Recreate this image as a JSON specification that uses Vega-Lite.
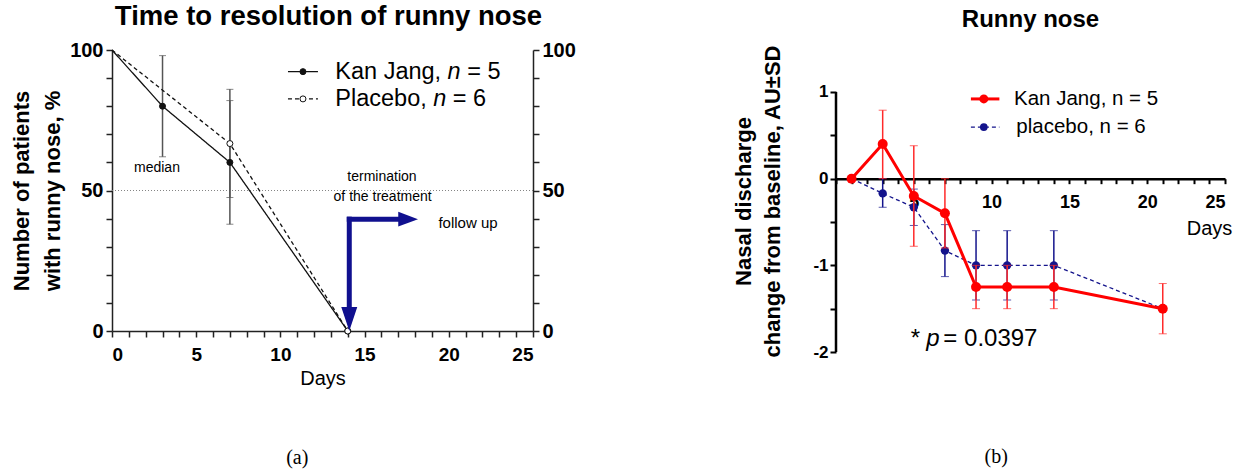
{
  "$schema": "https://vega.github.io/schema/vega-lite/v6.json",
  "background": "white",
  "padding": {"left": 10, "top": 2, "right": 5, "bottom": 5},
  "spacing": 156,
  "datasets": {
    "ref50": [{"v": 50}],
    "left_series": [
      {"g": "KJ", "day": 0, "v": 100},
      {"g": "KJ", "day": 3, "v": 80},
      {"g": "KJ", "day": 7, "v": 60},
      {"g": "KJ", "day": 14, "v": 0},
      {"g": "PL", "day": 0, "v": 100},
      {"g": "PL", "day": 7, "v": 66.7},
      {"g": "PL", "day": 14, "v": 0}
    ],
    "left_err": [
      {"g": "KJ", "day": 3, "lo": 62, "hi": 98},
      {"g": "KJ", "day": 7, "lo": 38, "hi": 82},
      {"g": "PL", "day": 7, "lo": 47.5, "hi": 86}
    ],
    "arrow_shafts": [
      {"x": 14.09, "x2": 14.09, "y": 39.8, "y2": 9},
      {"x": 14.09, "x2": 17.0, "y": 39.8, "y2": 39.8}
    ],
    "arrow_heads": [
      {"dir": "down", "x": 14.09, "y": 4.27},
      {"dir": "right", "x": 17.585, "y": 39.8}
    ],
    "ann_left": [
      {"x": 2.67, "y": 58.1, "t": "median"},
      {"x": 16.03, "y": 54.9, "t": "termination"},
      {"x": 16.07, "y": 47.7, "t": "of the treatment"}
    ],
    "ann_left2": [{"x": 21.14, "y": 38.6, "t": "follow up"}],
    "leg_left": [
      {"g": "KJ", "x1": 10.45, "x2": 12.23, "mx": 11.34, "y": 92.3, "a": "Kan Jang,", "ax": 13.26, "nx": 19.93, "b": "= 5", "bx": 21.1},
      {"g": "PL", "x1": 10.45, "x2": 12.23, "mx": 11.34, "y": 82.6, "a": "Placebo,", "ax": 13.26, "nx": 19.08, "b": "= 6", "bx": 20.24}
    ],
    "cap_a": [{"x": 11.0, "y": -45.3, "t": "(a)"}],
    "right_axis_line": [{"x": 0, "y": -2, "y2": 1}],
    "right_series": [
      {"g": "PL", "day": 1, "v": 0},
      {"g": "PL", "day": 3, "v": -0.17},
      {"g": "PL", "day": 5, "v": -0.33},
      {"g": "PL", "day": 7, "v": -0.83},
      {"g": "PL", "day": 9, "v": -1.0},
      {"g": "PL", "day": 11, "v": -1.0},
      {"g": "PL", "day": 14, "v": -1.0},
      {"g": "PL", "day": 21, "v": -1.5},
      {"g": "KJ", "day": 1, "v": 0},
      {"g": "KJ", "day": 3, "v": 0.4},
      {"g": "KJ", "day": 5, "v": -0.2},
      {"g": "KJ", "day": 7, "v": -0.4},
      {"g": "KJ", "day": 9, "v": -1.25},
      {"g": "KJ", "day": 11, "v": -1.25},
      {"g": "KJ", "day": 14, "v": -1.25},
      {"g": "KJ", "day": 21, "v": -1.5}
    ],
    "right_err": [
      {"g": "PL", "day": 3, "lo": -0.33, "hi": 0},
      {"g": "PL", "day": 5, "lo": -0.54, "hi": -0.12},
      {"g": "PL", "day": 7, "lo": -1.13, "hi": -0.53},
      {"g": "PL", "day": 9, "lo": -1.4, "hi": -0.6},
      {"g": "PL", "day": 11, "lo": -1.4, "hi": -0.6},
      {"g": "PL", "day": 14, "lo": -1.4, "hi": -0.6},
      {"g": "KJ", "day": 3, "lo": 0, "hi": 0.79},
      {"g": "KJ", "day": 5, "lo": -0.78, "hi": 0.38},
      {"g": "KJ", "day": 7, "lo": -0.8, "hi": 0},
      {"g": "KJ", "day": 9, "lo": -1.5, "hi": -1.0},
      {"g": "KJ", "day": 11, "lo": -1.5, "hi": -1.0},
      {"g": "KJ", "day": 14, "lo": -1.5, "hi": -1.0},
      {"g": "KJ", "day": 21, "lo": -1.79, "hi": -1.21}
    ],
    "leg_right": [
      {"g": "KJ", "x1": 8.67, "x2": 10.5, "mx": 9.5, "y": 0.92, "t": "Kan Jang, n = 5", "tx": 11.44},
      {"g": "PL", "x1": 8.67, "x2": 10.5, "mx": 9.5, "y": 0.595, "t": "placebo, n = 6", "tx": 11.59}
    ],
    "pval": [
      {"x": 4.8, "y": -1.845, "t": "*"},
      {"x": 6.9, "y": -1.845, "t": "= 0.0397"}
    ],
    "pval_p": [{"x": 5.8, "y": -1.845}],
    "cap_b": [{"x": 10.3, "y": -3.21, "t": "(b)"}]
  },
  "hconcat": [
    {
      "width": 421,
      "height": 281,
      "title": {"text": "Time to resolution of runny nose", "fontSize": 27.5, "fontWeight": "bold", "anchor": "middle", "frame": "group", "offset": 10, "dx": 6},
      "resolve": {"axis": {"x": "independent", "y": "independent"}},
      "layer": [
        {
          "data": {"name": "ref50"},
          "mark": {"type": "rule", "strokeDash": [1, 2], "color": "#777", "strokeWidth": 0.9},
          "encoding": {
            "y": {"field": "v", "type": "quantitative", "scale": {"domain": [0, 100], "nice": false},
              "axis": {"orient": "left", "values": [0, 10, 20, 30, 40, 50, 60, 70, 80, 90, 100], "labelOverlap": false,
                "labelExpr": "datum.value % 50 === 0 ? datum.label : ''",
                "title": ["Number of patients", "with runny nose, %"], "titleFontSize": 22, "titleFontWeight": "bold",
                "titleLineHeight": 31, "titlePadding": 5, "labelFontSize": 20, "labelFontWeight": "bold",
                "tickSize": 6, "tickWidth": 1.5, "domainWidth": 1.5, "labelPadding": 3}}
          }
        },
        {
          "data": {"name": "left_err"},
          "mark": {"type": "errorbar", "color": "#555", "ticks": {"size": 7, "strokeWidth": 1.5}, "rule": {"strokeWidth": 1.5}},
          "encoding": {
            "x": {"field": "day", "type": "quantitative", "scale": {"domain": [0, 25], "nice": false},
              "axis": {"orient": "bottom", "values": [0,1,2,3,4,5,6,7,8,9,10,11,12,13,14,15,16,17,18,19,20,21,22,23,24,25], "labelOverlap": false,
                "labelExpr": "datum.value % 5 === 0 ? datum.label : ''", "labelFontSize": 19, "labelFontWeight": "bold",
                "tickSize": 6, "tickWidth": 1.5, "domainWidth": 1.5, "labelPadding": 8,
                "title": "Days", "titleFontSize": 20, "titleFontWeight": "normal", "titlePadding": 4}},
            "y": {"field": "lo", "type": "quantitative", "scale": {"domain": [0, 100], "nice": false}, "axis": null},
            "y2": {"field": "hi"}
          }
        },
        {
          "data": {"name": "left_series"},
          "mark": {"type": "line", "color": "#111", "strokeWidth": 1.3},
          "encoding": {
            "x": {"field": "day", "type": "quantitative", "scale": {"domain": [0, 25], "nice": false}, "axis": null},
            "y": {"field": "v", "type": "quantitative", "scale": {"domain": [0, 100], "nice": false},
              "axis": {"orient": "right", "values": [0, 10, 20, 30, 40, 50, 60, 70, 80, 90, 100], "labelOverlap": false,
                "labelExpr": "datum.value % 50 === 0 ? datum.label : ''", "title": null,
                "labelFontSize": 20, "labelFontWeight": "bold", "tickSize": 6, "tickWidth": 1.5, "domainWidth": 1.5, "labelPadding": 3}},
            "strokeDash": {"field": "g", "type": "nominal", "scale": {"domain": ["KJ", "PL"], "range": [[1, 0], [4, 3]]}, "legend": null}
          }
        },
        {
          "data": {"name": "left_series"},
          "transform": [{"filter": "datum.day > 0"}],
          "mark": {"type": "point", "shape": "circle", "stroke": "#111", "strokeWidth": 1, "size": 36, "opacity": 1},
          "encoding": {
            "x": {"field": "day", "type": "quantitative", "scale": {"domain": [0, 25], "nice": false}, "axis": null},
            "y": {"field": "v", "type": "quantitative", "scale": {"domain": [0, 100], "nice": false}, "axis": null},
            "fill": {"field": "g", "type": "nominal", "scale": {"domain": ["KJ", "PL"], "range": ["#111", "white"]}, "legend": null}
          }
        },
        {
          "data": {"name": "arrow_shafts"},
          "mark": {"type": "rule", "color": "#10108f", "strokeWidth": 5, "strokeCap": "square"},
          "encoding": {
            "x": {"field": "x", "type": "quantitative", "scale": {"domain": [0, 25], "nice": false}, "axis": null},
            "x2": {"field": "x2"},
            "y": {"field": "y", "type": "quantitative", "scale": {"domain": [0, 100], "nice": false}, "axis": null},
            "y2": {"field": "y2"}
          }
        },
        {
          "data": {"name": "arrow_heads"},
          "mark": {"type": "point", "filled": true, "opacity": 1, "color": "#10108f"},
          "encoding": {
            "x": {"field": "x", "type": "quantitative", "scale": {"domain": [0, 25], "nice": false}, "axis": null},
            "y": {"field": "y", "type": "quantitative", "scale": {"domain": [0, 100], "nice": false}, "axis": null},
            "shape": {"field": "dir", "type": "nominal", "scale": {"domain": ["down", "right"], "range": ["M-0.667,-1L0.667,-1L0,1Z", "M-1,-0.75L1,0L-1,0.75Z"]}, "legend": null},
            "size": {"field": "dir", "type": "nominal", "scale": {"domain": ["down", "right"], "range": [576, 390]}, "legend": null}
          }
        },
        {
          "data": {"name": "ann_left"},
          "mark": {"type": "text", "fontSize": 14, "align": "center", "baseline": "middle", "color": "#000"},
          "encoding": {
            "x": {"field": "x", "type": "quantitative", "scale": {"domain": [0, 25], "nice": false}, "axis": null},
            "y": {"field": "y", "type": "quantitative", "scale": {"domain": [0, 100], "nice": false}, "axis": null},
            "text": {"field": "t"}
          }
        },
        {
          "data": {"name": "ann_left2"},
          "mark": {"type": "text", "fontSize": 15, "align": "center", "baseline": "middle", "color": "#000"},
          "encoding": {
            "x": {"field": "x", "type": "quantitative", "scale": {"domain": [0, 25], "nice": false}, "axis": null},
            "y": {"field": "y", "type": "quantitative", "scale": {"domain": [0, 100], "nice": false}, "axis": null},
            "text": {"field": "t"}
          }
        },
        {
          "data": {"name": "leg_left"},
          "mark": {"type": "rule", "color": "#111", "strokeWidth": 1.3},
          "encoding": {
            "x": {"field": "x1", "type": "quantitative", "scale": {"domain": [0, 25], "nice": false}, "axis": null},
            "x2": {"field": "x2"},
            "y": {"field": "y", "type": "quantitative", "scale": {"domain": [0, 100], "nice": false}, "axis": null},
            "strokeDash": {"field": "g", "type": "nominal", "scale": {"domain": ["KJ", "PL"], "range": [[1, 0], [4, 3]]}, "legend": null}
          }
        },
        {
          "data": {"name": "leg_left"},
          "mark": {"type": "point", "shape": "circle", "stroke": "#111", "strokeWidth": 1, "size": 36, "opacity": 1},
          "encoding": {
            "x": {"field": "mx", "type": "quantitative", "scale": {"domain": [0, 25], "nice": false}, "axis": null},
            "y": {"field": "y", "type": "quantitative", "scale": {"domain": [0, 100], "nice": false}, "axis": null},
            "fill": {"field": "g", "type": "nominal", "scale": {"domain": ["KJ", "PL"], "range": ["#111", "white"]}, "legend": null}
          }
        },
        {
          "data": {"name": "leg_left"},
          "mark": {"type": "text", "fontSize": 23.5, "align": "left", "baseline": "middle", "color": "#000"},
          "encoding": {
            "x": {"field": "ax", "type": "quantitative", "scale": {"domain": [0, 25], "nice": false}, "axis": null},
            "y": {"field": "y", "type": "quantitative", "scale": {"domain": [0, 100], "nice": false}, "axis": null},
            "text": {"field": "a"}
          }
        },
        {
          "data": {"name": "leg_left"},
          "mark": {"type": "text", "fontSize": 23.5, "fontStyle": "italic", "align": "left", "baseline": "middle", "color": "#000", "text": "n"},
          "encoding": {
            "x": {"field": "nx", "type": "quantitative", "scale": {"domain": [0, 25], "nice": false}, "axis": null},
            "y": {"field": "y", "type": "quantitative", "scale": {"domain": [0, 100], "nice": false}, "axis": null}
          }
        },
        {
          "data": {"name": "leg_left"},
          "mark": {"type": "text", "fontSize": 23.5, "align": "left", "baseline": "middle", "color": "#000"},
          "encoding": {
            "x": {"field": "bx", "type": "quantitative", "scale": {"domain": [0, 25], "nice": false}, "axis": null},
            "y": {"field": "y", "type": "quantitative", "scale": {"domain": [0, 100], "nice": false}, "axis": null},
            "text": {"field": "b"}
          }
        },
        {
          "data": {"name": "cap_a"},
          "mark": {"type": "text", "fontSize": 20, "font": "Liberation Serif", "align": "center", "baseline": "middle", "color": "#000"},
          "encoding": {
            "x": {"field": "x", "type": "quantitative", "scale": {"domain": [0, 25], "nice": false}, "axis": null},
            "y": {"field": "y", "type": "quantitative", "scale": {"domain": [0, 100], "nice": false}, "axis": null},
            "text": {"field": "t"}
          }
        }
      ]
    },
    {
      "width": 389,
      "height": 302,
      "title": {"text": "Runny nose", "fontSize": 24, "fontWeight": "bold", "anchor": "middle", "frame": "group", "offset": 13},
      "resolve": {"axis": {"x": "independent", "y": "independent"}},
      "layer": [
        {
          "data": {"name": "right_err"},
          "transform": [{"filter": "datum.g === 'PL'"}],
          "mark": {"type": "errorbar", "color": "#14148c", "ticks": {"size": 8, "strokeWidth": 1.5}, "rule": {"strokeWidth": 1.5}},
          "encoding": {
            "x": {"field": "day", "type": "quantitative", "scale": {"domain": [0, 25], "nice": false},
              "axis": {"orient": "bottom", "offset": -173.33, "values": [0,1,2,3,4,5,6,7,8,9,10,11,12,13,14,15,16,17,18,19,20,21,22,23,24,25], "labelOverlap": false,
                "labelExpr": "datum.value % 5 === 0 && datum.value > 0 ? datum.label : ''", "labelFontSize": 18, "labelFontWeight": "bold",
                "tickSize": 5, "tickWidth": 2, "domainWidth": 2.5, "domainColor": "#000", "tickColor": "#000", "labelPadding": 10,
                "title": "Days", "titleFontSize": 20, "titleFontWeight": "normal", "titleX": 373, "titleY": 56, "titleAlign": "center", "titleBaseline": "alphabetic"}},
            "y": {"field": "lo", "type": "quantitative", "scale": {"domain": [-2, 1.4846], "nice": false},
              "axis": {"orient": "left", "values": [-2, -1.5, -1, -0.5, 0, 0.5, 1], "labelOverlap": false, "domain": false,
                "labelExpr": "datum.value % 1 === 0 ? '' + datum.value : ''", "labelFontSize": 17, "labelFontWeight": "bold",
                "tickSize": 6, "tickWidth": 2, "tickColor": "#000", "labelPadding": 2,
                "title": ["Nasal discharge", "change from baseline, AU±SD"], "titleFontSize": 22, "titleFontWeight": "bold",
                "titleLineHeight": 29, "titlePadding": 28}},
            "y2": {"field": "hi"}
          }
        },
        {
          "data": {"name": "right_axis_line"},
          "mark": {"type": "rule", "color": "#000", "strokeWidth": 2.5},
          "encoding": {
            "x": {"field": "x", "type": "quantitative", "scale": {"domain": [0, 25], "nice": false}, "axis": null},
            "y": {"field": "y", "type": "quantitative", "scale": {"domain": [-2, 1.4846], "nice": false}, "axis": null},
            "y2": {"field": "y2"}
          }
        },
        {
          "data": {"name": "right_series"},
          "transform": [{"filter": "datum.g === 'PL'"}],
          "mark": {"type": "line", "color": "#14148c", "strokeWidth": 1.3, "strokeDash": [4, 3]},
          "encoding": {
            "x": {"field": "day", "type": "quantitative", "scale": {"domain": [0, 25], "nice": false}, "axis": null},
            "y": {"field": "v", "type": "quantitative", "scale": {"domain": [-2, 1.4846], "nice": false}, "axis": null}
          }
        },
        {
          "data": {"name": "right_series"},
          "transform": [{"filter": "datum.g === 'PL'"}],
          "mark": {"type": "point", "shape": "circle", "filled": true, "color": "#14148c", "size": 70, "opacity": 1},
          "encoding": {
            "x": {"field": "day", "type": "quantitative", "scale": {"domain": [0, 25], "nice": false}, "axis": null},
            "y": {"field": "v", "type": "quantitative", "scale": {"domain": [-2, 1.4846], "nice": false}, "axis": null}
          }
        },
        {
          "data": {"name": "right_err"},
          "transform": [{"filter": "datum.g === 'KJ'"}],
          "mark": {"type": "errorbar", "color": "#ff2a2a", "ticks": {"size": 8, "strokeWidth": 1.5}, "rule": {"strokeWidth": 1.5}},
          "encoding": {
            "x": {"field": "day", "type": "quantitative", "scale": {"domain": [0, 25], "nice": false}, "axis": null},
            "y": {"field": "lo", "type": "quantitative", "scale": {"domain": [-2, 1.4846], "nice": false}, "axis": null},
            "y2": {"field": "hi"}
          }
        },
        {
          "data": {"name": "right_series"},
          "transform": [{"filter": "datum.g === 'KJ'"}],
          "mark": {"type": "line", "color": "#ff0000", "strokeWidth": 3},
          "encoding": {
            "x": {"field": "day", "type": "quantitative", "scale": {"domain": [0, 25], "nice": false}, "axis": null},
            "y": {"field": "v", "type": "quantitative", "scale": {"domain": [-2, 1.4846], "nice": false}, "axis": null}
          }
        },
        {
          "data": {"name": "right_series"},
          "transform": [{"filter": "datum.g === 'KJ'"}],
          "mark": {"type": "point", "shape": "circle", "filled": true, "color": "#ff0000", "size": 100, "opacity": 1},
          "encoding": {
            "x": {"field": "day", "type": "quantitative", "scale": {"domain": [0, 25], "nice": false}, "axis": null},
            "y": {"field": "v", "type": "quantitative", "scale": {"domain": [-2, 1.4846], "nice": false}, "axis": null}
          }
        },
        {
          "data": {"name": "leg_right"},
          "transform": [{"filter": "datum.g === 'KJ'"}],
          "mark": {"type": "rule", "color": "#ff0000", "strokeWidth": 3},
          "encoding": {
            "x": {"field": "x1", "type": "quantitative", "scale": {"domain": [0, 25], "nice": false}, "axis": null},
            "x2": {"field": "x2"},
            "y": {"field": "y", "type": "quantitative", "scale": {"domain": [-2, 1.4846], "nice": false}, "axis": null}
          }
        },
        {
          "data": {"name": "leg_right"},
          "transform": [{"filter": "datum.g === 'PL'"}],
          "mark": {"type": "rule", "color": "#14148c", "strokeWidth": 1.3, "strokeDash": [4, 3]},
          "encoding": {
            "x": {"field": "x1", "type": "quantitative", "scale": {"domain": [0, 25], "nice": false}, "axis": null},
            "x2": {"field": "x2"},
            "y": {"field": "y", "type": "quantitative", "scale": {"domain": [-2, 1.4846], "nice": false}, "axis": null}
          }
        },
        {
          "data": {"name": "leg_right"},
          "transform": [{"filter": "datum.g === 'KJ'"}],
          "mark": {"type": "point", "shape": "circle", "filled": true, "color": "#ff0000", "size": 80, "opacity": 1},
          "encoding": {
            "x": {"field": "mx", "type": "quantitative", "scale": {"domain": [0, 25], "nice": false}, "axis": null},
            "y": {"field": "y", "type": "quantitative", "scale": {"domain": [-2, 1.4846], "nice": false}, "axis": null}
          }
        },
        {
          "data": {"name": "leg_right"},
          "transform": [{"filter": "datum.g === 'PL'"}],
          "mark": {"type": "point", "shape": "circle", "filled": true, "color": "#14148c", "size": 60, "opacity": 1},
          "encoding": {
            "x": {"field": "mx", "type": "quantitative", "scale": {"domain": [0, 25], "nice": false}, "axis": null},
            "y": {"field": "y", "type": "quantitative", "scale": {"domain": [-2, 1.4846], "nice": false}, "axis": null}
          }
        },
        {
          "data": {"name": "leg_right"},
          "mark": {"type": "text", "fontSize": 20.5, "align": "left", "baseline": "middle", "color": "#000"},
          "encoding": {
            "x": {"field": "tx", "type": "quantitative", "scale": {"domain": [0, 25], "nice": false}, "axis": null},
            "y": {"field": "y", "type": "quantitative", "scale": {"domain": [-2, 1.4846], "nice": false}, "axis": null},
            "text": {"field": "t"}
          }
        },
        {
          "data": {"name": "pval"},
          "mark": {"type": "text", "fontSize": 24, "align": "left", "baseline": "middle", "color": "#000"},
          "encoding": {
            "x": {"field": "x", "type": "quantitative", "scale": {"domain": [0, 25], "nice": false}, "axis": null},
            "y": {"field": "y", "type": "quantitative", "scale": {"domain": [-2, 1.4846], "nice": false}, "axis": null},
            "text": {"field": "t"}
          }
        },
        {
          "data": {"name": "pval_p"},
          "mark": {"type": "text", "fontSize": 24, "fontStyle": "italic", "align": "left", "baseline": "middle", "color": "#000", "text": "p"},
          "encoding": {
            "x": {"field": "x", "type": "quantitative", "scale": {"domain": [0, 25], "nice": false}, "axis": null},
            "y": {"field": "y", "type": "quantitative", "scale": {"domain": [-2, 1.4846], "nice": false}, "axis": null}
          }
        },
        {
          "data": {"name": "cap_b"},
          "mark": {"type": "text", "fontSize": 20, "font": "Liberation Serif", "align": "center", "baseline": "middle", "color": "#000"},
          "encoding": {
            "x": {"field": "x", "type": "quantitative", "scale": {"domain": [0, 25], "nice": false}, "axis": null},
            "y": {"field": "y", "type": "quantitative", "scale": {"domain": [-2, 1.4846], "nice": false}, "axis": null},
            "text": {"field": "t"}
          }
        }
      ]
    }
  ],
  "config": {
    "view": {"stroke": null},
    "font": "Liberation Sans",
    "axis": {"grid": false, "domainColor": "#222", "tickColor": "#222", "labelColor": "#000", "titleColor": "#000", "labelFont": "Liberation Sans", "titleFont": "Liberation Sans"},
    "title": {"font": "Liberation Sans", "color": "#000"}
  }
}
